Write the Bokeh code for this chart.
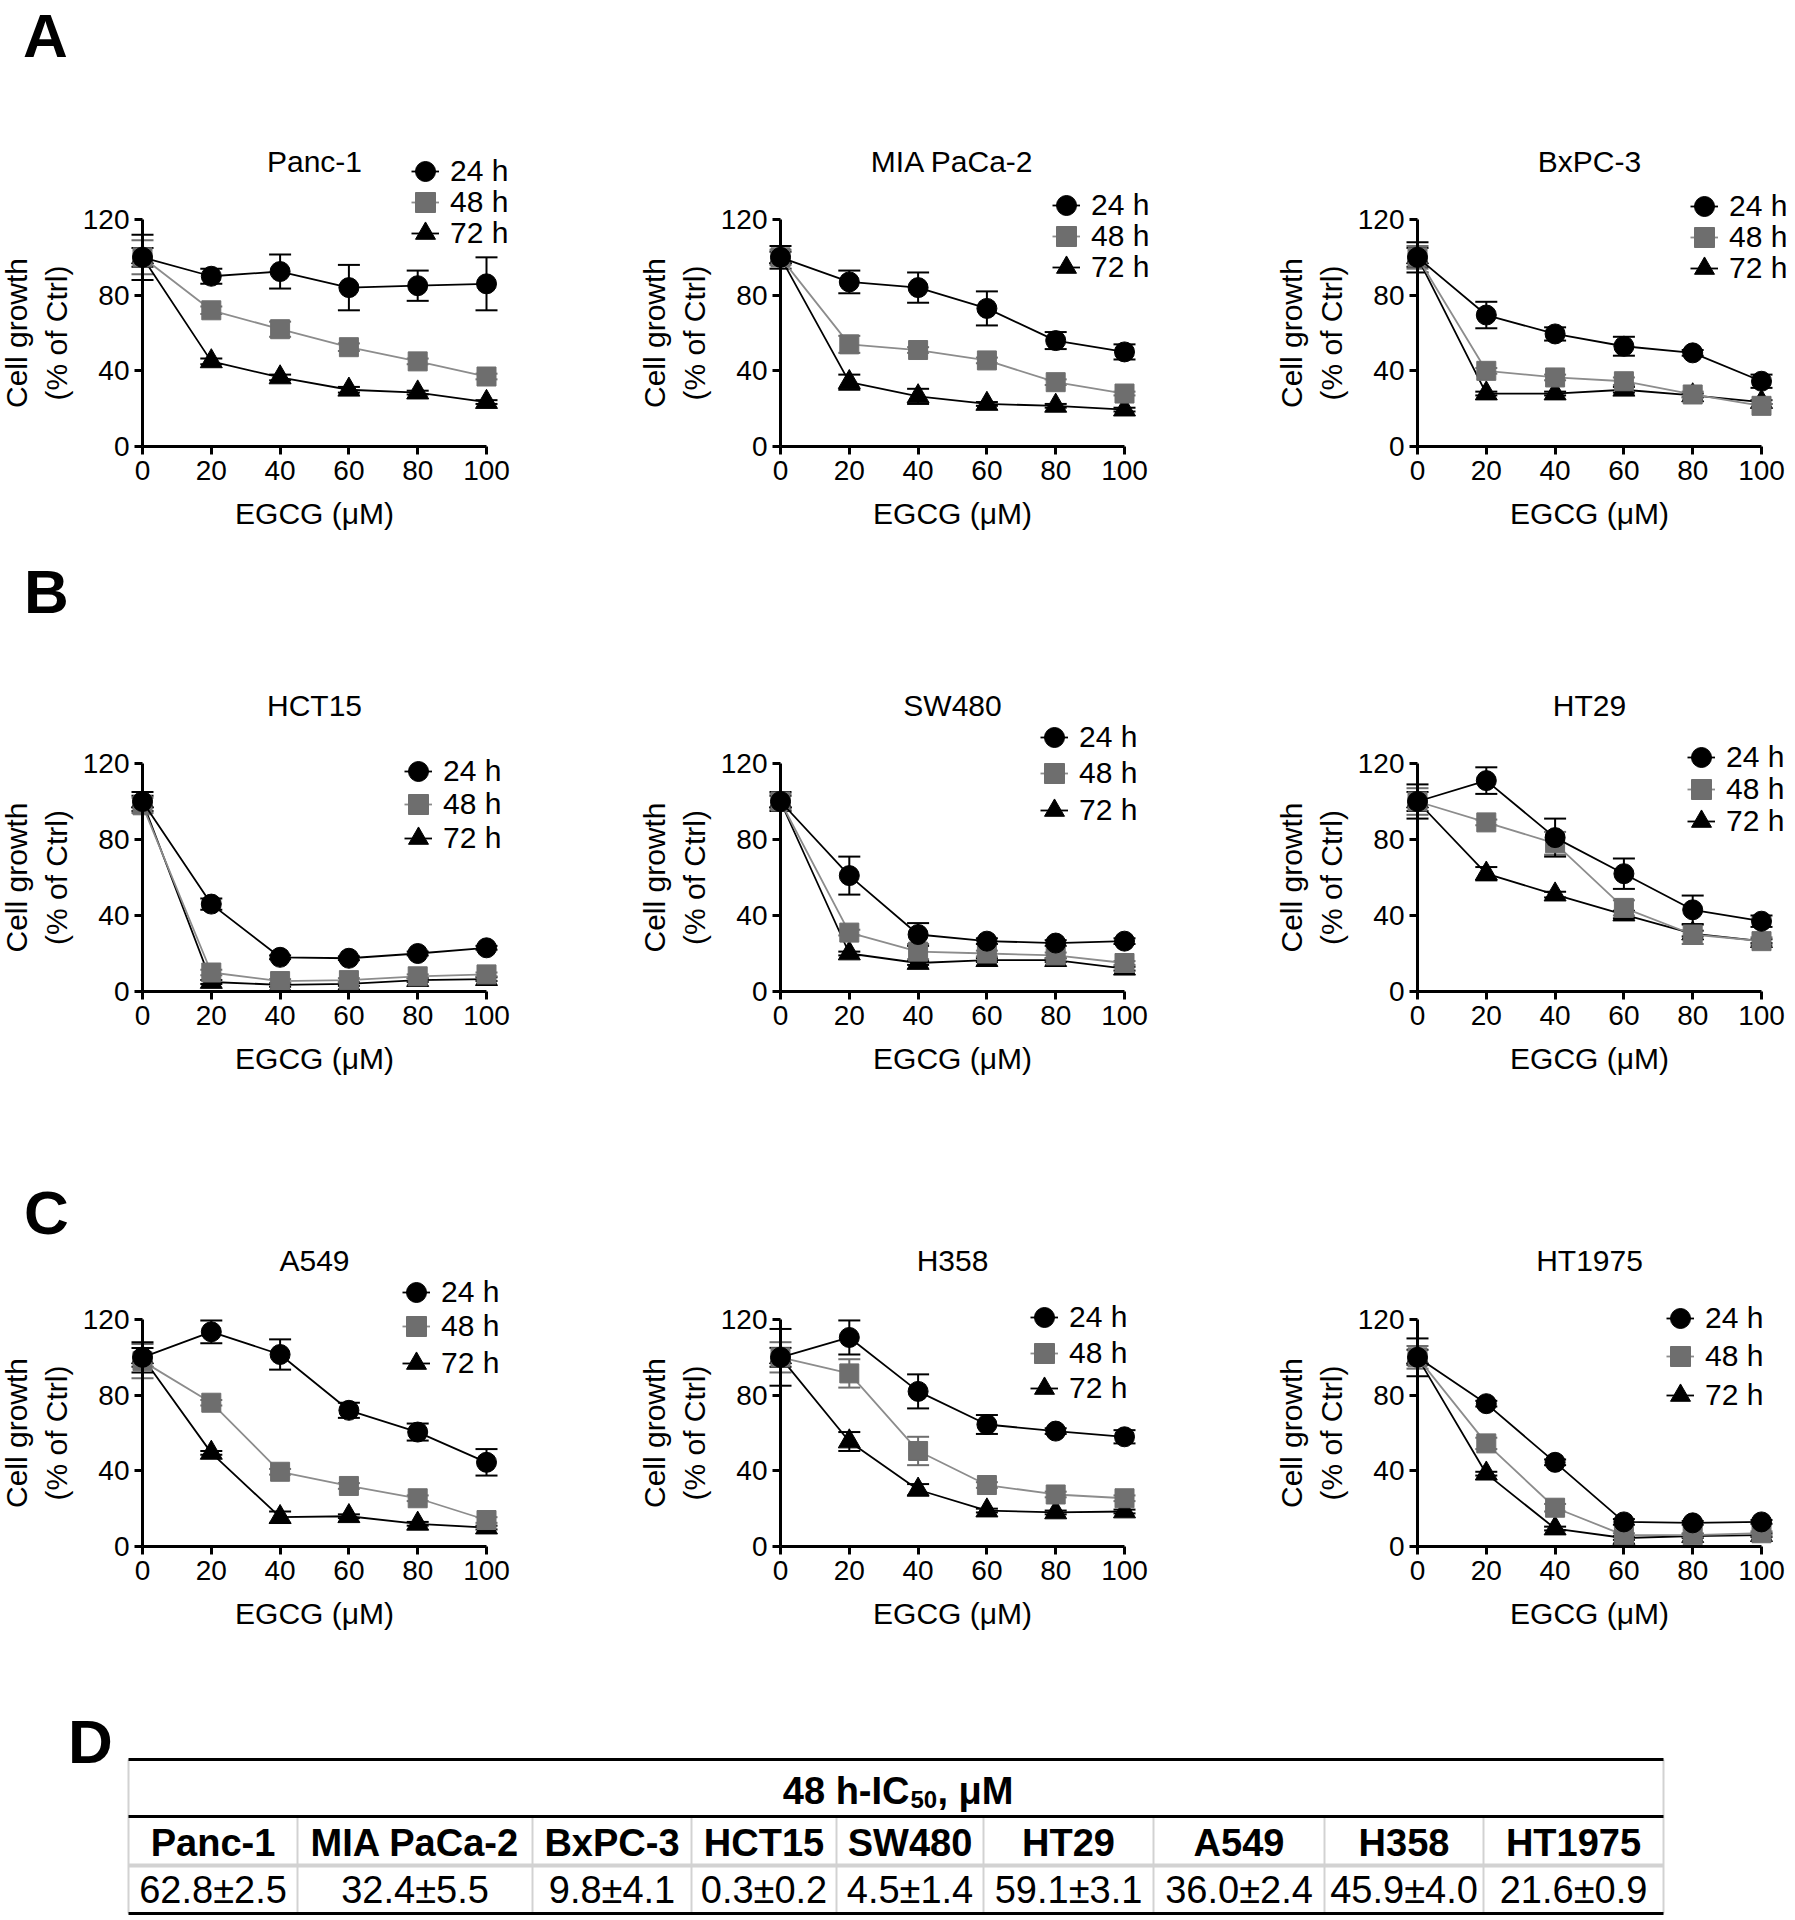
from bokeh.plotting import figure
from bokeh.models import (Range1d, FixedTicker, Whisker, TeeHead, ColumnDataSource,
                          Legend, LegendItem, Label)
from bokeh.layouts import row, column
from bokeh.embed import file_html
from bokeh.resources import INLINE
from bokeh.core.properties import value

# ------------------------------------------------------------------ data
DOSES = [0, 20, 40, 60, 80, 100]
SERIES_LABELS = ["24 h", "48 h", "72 h"]
X_TICKS = [0, 20, 40, 60, 80, 100]
Y_TICKS = [0, 40, 80, 120]
X_LABEL = "EGCG (μM)"
Y_LABEL = "Cell growth\n(% of Ctrl)"

PANC1_24 = [100, 90, 92.5, 84, 85, 86]
PANC1_24_SD = [12, 4, 9, 12, 8, 14]
PANC1_48 = [100, 72, 62, 52.5, 45, 37]
PANC1_48_SD = [9, 2, 4, 2, 1.5, 1.5]
PANC1_72 = [100, 45, 36.5, 30, 28.5, 23.5]
PANC1_72_SD = [5, 1.5, 1.5, 1.5, 1, 1]

MIA_24 = [100, 87, 84, 73, 56, 50]
MIA_24_SD = [6, 6, 8, 9, 4.5, 4]
MIA_48 = [100, 54, 51, 45.5, 34, 28]
MIA_48_SD = [4, 4.5, 1.5, 1.5, 1.5, 1]
MIA_72 = [100, 34, 26.5, 22.5, 21.5, 19.5]
MIA_72_SD = [3, 4, 4, 1, 1, 1]

BXPC_24 = [100, 69.5, 59.5, 53, 49.5, 34.5]
BXPC_24_SD = [8, 7, 3.5, 5, 1.5, 3.5]
BXPC_48 = [100, 40, 36.5, 34.5, 27.5, 21.5]
BXPC_48_SD = [6, 1.5, 1.5, 2, 1.5, 1]
BXPC_72 = [100, 28, 28, 30, 27, 23.5]
BXPC_72_SD = [5, 1, 1, 1.5, 1, 1]

HCT15_24 = [100, 46, 18, 17.5, 20, 23]
HCT15_24_SD = [5, 3, 1, 1, 1, 1]
HCT15_48 = [98, 10, 5.5, 6, 8, 9]
HCT15_48_SD = [4, 1.5, 1, 1, 1, 1]
HCT15_72 = [100, 5, 3.5, 4, 6, 6.5]
HCT15_72_SD = [3, 1, 1, 1, 1, 1]

SW480_24 = [100, 61, 30, 26.5, 25.5, 26.5]
SW480_24_SD = [5, 10, 6, 1.5, 1.5, 1.5]
SW480_48 = [100, 31, 21, 20, 19, 15]
SW480_48_SD = [4, 1.5, 4, 1.5, 1.5, 1]
SW480_72 = [100, 20, 15, 16.5, 16.5, 12]
SW480_72_SD = [3, 1, 1, 1, 1, 1]

HT29_24 = [100, 111, 81, 62, 43, 37]
HT29_24_SD = [9, 7, 10, 8, 7.5, 3]
HT29_48 = [100, 89, 78, 44, 30, 26.5]
HT29_48_SD = [7, 1.5, 6, 4, 5, 2]
HT29_72 = [100, 62, 51, 40.5, 30.5, 26.5]
HT29_72_SD = [5, 3.5, 1.5, 2, 1.5, 1]

A549_24 = [100, 113.5, 101.5, 72, 60.5, 44.5]
A549_24_SD = [8, 6, 8, 4, 4.5, 7]
A549_48 = [98, 76, 39.5, 32, 25.5, 14]
A549_48_SD = [9, 1.5, 1.5, 1.5, 1.5, 1.5]
A549_72 = [100, 49.5, 15.5, 16, 12, 10]
A549_72_SD = [5, 1, 3, 1, 1, 1]

H358_24 = [100, 110.5, 82, 64.5, 61, 58]
H358_24_SD = [15, 9, 9, 5, 1.5, 3.5]
H358_48 = [100, 91.5, 50.5, 32.5, 27.5, 25.5]
H358_48_SD = [8, 7.5, 7.5, 1.5, 1.5, 1.5]
H358_72 = [100, 55.5, 30, 19, 18, 18.5]
H358_72_SD = [5, 5, 3, 1, 1, 1]

HT1975_24 = [100, 75.5, 44.5, 13, 12.5, 13]
HT1975_24_SD = [10, 1.5, 1.5, 1.5, 1, 1]
HT1975_48 = [100, 54.5, 20.5, 6, 6, 7]
HT1975_48_SD = [6, 3, 2, 1, 1, 1]
HT1975_72 = [100, 38.5, 9.5, 4.5, 5.5, 6]
HT1975_72_SD = [4, 1, 1, 1, 1, 1]

CELL_LINES = ["Panc-1", "MIA PaCa-2", "BxPC-3", "HCT15", "SW480",
              "HT29", "A549", "H358", "HT1975"]
IC50_MEAN = [62.8, 32.4, 9.8, 0.3, 4.5, 59.1, 36.0, 45.9, 21.6]
IC50_SD = [2.5, 5.5, 4.1, 0.2, 1.4, 3.1, 2.4, 4.0, 0.9]
TABLE_TITLE = ("48 h-IC", "50", ", μM")

# ------------------------------------------------------------------ style / layout
FONT = "Liberation Sans"
BLACK = "#000000"
GREY_MARK = "#6e6e6e"
GREY_LINE = "#8c8c8c"
STYLES = [
    dict(marker="circle", size=20, fill=BLACK, line=BLACK, lc=BLACK),
    dict(marker="square", size=19, fill=GREY_MARK, line=GREY_MARK, lc=GREY_LINE),
    dict(marker="triangle", size=22, fill=BLACK, line=BLACK, lc=BLACK),
]
# (fig_left, fig_width, axis_left, axis_right) in page px
COLS = [(0, 620, 142, 486), (620, 635, 780, 1124), (1255, 540, 1417, 1761)]
# (fig_top, fig_height, axis_top, axis_bottom, title_y)
ROWS = [(0, 545, 219, 446, 161), (545, 585, 763, 991, 705), (1130, 560, 1319, 1546, 1260)]
LEG_GLYPH = 50


def make_panel(title, means, sds, col, rw, leg, letter=None):
    fl, fw, ax_l, ax_r = COLS[col]
    ft, fh, ax_t, ax_b, title_y = ROWS[rw]
    aw = ax_r - ax_l
    ah = ax_b - ax_t
    x0 = (fl - ax_l) / aw * 100
    x1 = (fl + fw - ax_l) / aw * 100
    y0 = (ax_b - (ft + fh)) / ah * 120
    y1 = (ax_b - ft) / ah * 120
    p = figure(width=fw, height=fh, output_backend="svg", toolbar_location=None,
               x_range=Range1d(x0, x1), y_range=Range1d(y0, y1),
               min_border_left=0, min_border_right=0, min_border_top=0, min_border_bottom=0)
    p.outline_line_color = None
    p.grid.visible = False
    p.xaxis.fixed_location = 0
    p.yaxis.fixed_location = 0
    p.xaxis.bounds = (0, 100)
    p.yaxis.bounds = (0, 120)
    p.xaxis.ticker = FixedTicker(ticks=X_TICKS, minor_ticks=[])
    p.yaxis.ticker = FixedTicker(ticks=Y_TICKS, minor_ticks=[])
    for ax in (p.xaxis[0], p.yaxis[0]):
        ax.axis_line_width = 3
        ax.axis_line_color = BLACK
        ax.major_tick_line_width = 3
        ax.major_tick_line_color = BLACK
        ax.major_tick_out = 8
        ax.major_tick_in = 0
        ax.minor_tick_out = 0
        ax.minor_tick_in = 0
        ax.major_label_text_font = FONT
        ax.major_label_text_font_size = "28px"
        ax.major_label_text_color = BLACK
        ax.axis_label_text_font = FONT
        ax.axis_label_text_font_size = "30px"
        ax.axis_label_text_font_style = "normal"
        ax.axis_label_text_color = BLACK
    p.xaxis.axis_label = X_LABEL
    p.yaxis.axis_label = Y_LABEL
    p.xaxis.major_label_standoff = 6
    p.xaxis.axis_label_standoff = 14
    p.yaxis.major_label_standoff = 5
    p.yaxis.axis_label_standoff = 7

    scat = [None] * 3
    lines = [None] * 3
    for i in (2, 1, 0):
        st = STYLES[i]
        src = ColumnDataSource(dict(
            x=DOSES, y=means[i],
            upper=[m + s for m, s in zip(means[i], sds[i])],
            lower=[m - s for m, s in zip(means[i], sds[i])]))
        w = Whisker(source=src, base="x", upper="upper", lower="lower",
                    line_color=st["line"], line_width=2,
                    upper_head=TeeHead(size=22, line_color=st["line"], line_width=2),
                    lower_head=TeeHead(size=22, line_color=st["line"], line_width=2))
        p.add_layout(w)
        lines[i] = p.line("x", "y", source=src, line_color=st["lc"], line_width=1.8)
        scat[i] = p.scatter("x", "y", source=src, marker=st["marker"], size=st["size"],
                            fill_color=st["fill"], line_color=st["line"])

    # one legend box per entry, so that row pitch and marker size can both match
    mx, rows_y = leg
    for i in range(3):
        cy = (ft + fh) - rows_y[i]
        # short line key behind the marker
        lk = Legend(items=[LegendItem(label=" ", renderers=[lines[i]])],
                    location=((mx - fl) - 14, cy - LEG_GLYPH / 2), glyph_width=28,
                    glyph_height=LEG_GLYPH, label_standoff=0, spacing=0, padding=0, margin=0,
                    border_line_color=None, background_fill_alpha=0,
                    label_text_font=FONT, label_text_font_size="10px")
        p.add_layout(lk)
        lg = Legend(items=[LegendItem(label=SERIES_LABELS[i], renderers=[scat[i]])],
                    location=((mx - fl) - LEG_GLYPH / 2, cy - LEG_GLYPH / 2),
                    glyph_width=LEG_GLYPH, glyph_height=LEG_GLYPH,
                    label_standoff=0, spacing=0, padding=0, margin=0,
                    border_line_color=None, background_fill_alpha=0,
                    label_text_font=FONT, label_text_font_size="30px",
                    label_text_color=BLACK)
        p.add_layout(lg)

    p.add_layout(Label(x=50, y=120, y_offset=ax_t - title_y, text=title,
                       text_align="center", text_baseline="middle",
                       text_font=FONT, text_font_size="30px", text_color=BLACK))
    if letter is not None:
        txt, lx, ly = letter
        p.add_layout(Label(x=0, y=120, x_offset=lx - ax_l, y_offset=ax_t - ly, text=txt,
                           text_align="center", text_baseline="middle",
                           text_font=FONT, text_font_size="62px", text_font_style="bold",
                           text_color=BLACK))
    return p


panels = [
    make_panel("Panc-1", [PANC1_24, PANC1_48, PANC1_72], [PANC1_24_SD, PANC1_48_SD, PANC1_72_SD],
               0, 0, (425, (171, 202, 233)), ("A", 45, 35)),
    make_panel("MIA PaCa-2", [MIA_24, MIA_48, MIA_72], [MIA_24_SD, MIA_48_SD, MIA_72_SD],
               1, 0, (1066, (205, 236, 267))),
    make_panel("BxPC-3", [BXPC_24, BXPC_48, BXPC_72], [BXPC_24_SD, BXPC_48_SD, BXPC_72_SD],
               2, 0, (1704, (206, 237, 268))),
    make_panel("HCT15", [HCT15_24, HCT15_48, HCT15_72], [HCT15_24_SD, HCT15_48_SD, HCT15_72_SD],
               0, 1, (418, (771, 804, 838)), ("B", 46, 591)),
    make_panel("SW480", [SW480_24, SW480_48, SW480_72], [SW480_24_SD, SW480_48_SD, SW480_72_SD],
               1, 1, (1054, (737, 773, 810))),
    make_panel("HT29", [HT29_24, HT29_48, HT29_72], [HT29_24_SD, HT29_48_SD, HT29_72_SD],
               2, 1, (1701, (757, 789, 821))),
    make_panel("A549", [A549_24, A549_48, A549_72], [A549_24_SD, A549_48_SD, A549_72_SD],
               0, 2, (416, (1292, 1326, 1363)), ("C", 46, 1212)),
    make_panel("H358", [H358_24, H358_48, H358_72], [H358_24_SD, H358_48_SD, H358_72_SD],
               1, 2, (1044, (1317, 1353, 1388))),
    make_panel("HT1975", [HT1975_24, HT1975_48, HT1975_72], [HT1975_24_SD, HT1975_48_SD, HT1975_72_SD],
               2, 2, (1680, (1318, 1356, 1395))),
]

# ------------------------------------------------------------------ table (panel D)
TW, TH = 1795, 230
TOP = 1690  # page y of table figure
t = figure(width=TW, height=TH, output_backend="svg", toolbar_location=None,
           x_range=Range1d(0, TW), y_range=Range1d(TH, 0),
           min_border_left=0, min_border_right=0, min_border_top=0, min_border_bottom=0)
t.axis.visible = False
t.grid.visible = False
t.outline_line_color = None

edges = [128, 297, 532, 691, 836, 983, 1153, 1324, 1483, 1663]
y_top, y_hdr, y_mid, y_bot = 1759 - TOP, 1816 - TOP, 1865 - TOP, 1913 - TOP
LIGHT = "#d2d2d2"
t.segment(x0=edges[1:-1], y0=[y_hdr] * 8, x1=edges[1:-1], y1=[y_bot] * 8,
          line_color=LIGHT, line_width=2)
t.segment(x0=[edges[0], edges[-1]], y0=[y_top] * 2, x1=[edges[0], edges[-1]], y1=[y_bot] * 2,
          line_color=LIGHT, line_width=2)
t.segment(x0=[edges[0]], y0=[y_mid], x1=[edges[-1]], y1=[y_mid], line_color=LIGHT, line_width=4)
t.segment(x0=[edges[0]] * 3, y0=[y_top, y_hdr, y_bot], x1=[edges[-1]] * 3, y1=[y_top, y_hdr, y_bot],
          line_color=BLACK, line_width=3)

centers = [(a + b) / 2 for a, b in zip(edges[:-1], edges[1:])]
t.text(x=centers, y=[1842 - TOP] * len(CELL_LINES), text=CELL_LINES,
       text_font=value(FONT), text_font_size="38px", text_font_style="bold",
       text_align="center", text_baseline="middle", text_color=BLACK)
vals = [f"{m:.1f}±{s:.1f}" for m, s in zip(IC50_MEAN, IC50_SD)]
t.text(x=centers, y=[1889 - TOP] * len(vals), text=vals,
       text_font=value(FONT), text_font_size="38px",
       text_align="center", text_baseline="middle", text_color=BLACK)

sub_x = 909
hy = 1790 - TOP
t.text(x=[sub_x], y=[hy], text=[TABLE_TITLE[0]], text_font=value(FONT), text_font_size="38px",
       text_font_style="bold", text_align="right", text_baseline="middle", text_color=BLACK)
t.text(x=[sub_x + 1], y=[hy + 9], text=[TABLE_TITLE[1]], text_font=value(FONT), text_font_size="24px",
       text_font_style="bold", text_align="left", text_baseline="middle", text_color=BLACK)
t.text(x=[sub_x + 28], y=[hy], text=[TABLE_TITLE[2]], text_font=value(FONT), text_font_size="38px",
       text_font_style="bold", text_align="left", text_baseline="middle", text_color=BLACK)
t.add_layout(Label(x=90, y=1741 - TOP, text="D", text_align="center", text_baseline="middle",
                   text_font=FONT, text_font_size="62px", text_font_style="bold", text_color=BLACK))

layout = column(row(*panels[0:3]), row(*panels[3:6]), row(*panels[6:9]), t)
open("out.html", "w").write(file_html(layout, INLINE))
